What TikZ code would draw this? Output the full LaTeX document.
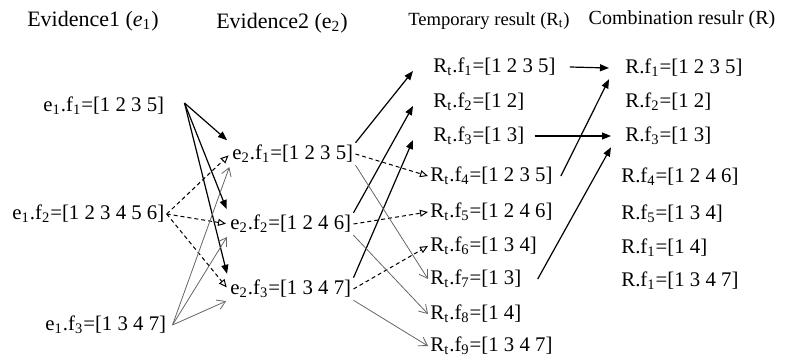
\documentclass[tikz,border=0pt]{standalone}
\usepackage{fontspec}
\setmainfont{Liberation Serif}
\usetikzlibrary{arrows.meta}
\newcommand{\ix}[1]{\textsubscript{#1}}

\begin{document}
\begin{tikzpicture}[x=0.5pt,y=-0.5pt]
\tikzstyle{item}=[anchor=west, inner sep=1pt, font=\fontsize{10.4}{12}\selectfont]
\tikzstyle{head}=[inner sep=1pt, font=\fontsize{11}{13}\selectfont]
\tikzstyle{hard}=[line width=0.6pt, -{Triangle[length=4.5pt,width=3.5pt]}]
\tikzstyle{soft}=[line width=0.5pt, dash pattern=on 2pt off 1.5pt, -{Triangle[open,length=4pt,width=3.5pt]}]
\tikzstyle{weak}=[line width=0.4pt, draw=black!60, -{Straight Barb[length=4pt,width=5pt]}]
\useasboundingbox (0,0) rectangle (787,358);
% column titles
\node[head] (h1) at (93,21) {Evidence1 (\textit{e}\ix{1})};
\node[head] (h2) at (282,23) {Evidence2 (e\ix{2})};
\node[head, font=\fontsize{9.3}{11}\selectfont] (h3) at (489,21) {Temporary result (R\ix{t})};
\node[head, font=\fontsize{10}{12}\selectfont] (h4) at (682,20) {Combination resulr (R)};
% evidence 1
\node[item] (e11) at (41,106) {e\ix{1}.f\ix{1}=[1 2 3 5]};
\node[item] (e12) at (10,214) {e\ix{1}.f\ix{2}=[1 2 3 4 5 6]};
\node[item] (e13) at (43,325) {e\ix{1}.f\ix{3}=[1 3 4 7]};
% evidence 2
\node[item] (e21) at (230,154) {e\ix{2}.f\ix{1}=[1 2 3 5]};
\node[item] (e22) at (228,224) {e\ix{2}.f\ix{2}=[1 2 4 6]};
\node[item] (e23) at (228,289) {e\ix{2}.f\ix{3}=[1 3 4 7]};
% temporary result
\node[item] (rt1) at (431,67) {R\ix{t}.f\ix{1}=[1 2 3 5]};
\node[item] (rt2) at (431,102) {R\ix{t}.f\ix{2}=[1 2]};
\node[item] (rt3) at (431,136) {R\ix{t}.f\ix{3}=[1 3]};
\node[item] (rt4) at (428,176) {R\ix{t}.f\ix{4}=[1 2 3 5]};
\node[item] (rt5) at (428,212) {R\ix{t}.f\ix{5}=[1 2 4 6]};
\node[item] (rt6) at (428,246) {R\ix{t}.f\ix{6}=[1 3 4]};
\node[item] (rt7) at (428,279) {R\ix{t}.f\ix{7}=[1 3]};
\node[item] (rt8) at (428,314) {R\ix{t}.f\ix{8}=[1 4]};
\node[item] (rt9) at (428,346) {R\ix{t}.f\ix{9}=[1 3 4 7]};
% combination result
\node[item] (r1) at (623,68) {R.f\ix{1}=[1 2 3 5]};
\node[item] (r2) at (623,102) {R.f\ix{2}=[1 2]};
\node[item] (r3) at (623,136) {R.f\ix{3}=[1 3]};
\node[item] (r4) at (619,177) {R.f\ix{4}=[1 2 4 6]};
\node[item] (r5) at (619,214) {R.f\ix{5}=[1 3 4]};
\node[item] (r6) at (619,248) {R.f\ix{1}=[1 4]};
\node[item] (r7) at (619,281) {R.f\ix{1}=[1 3 4 7]};
% e1 -> e2
\foreach \j in {e21,e22,e23}{\draw[hard, shorten >=2pt] ([xshift=9pt,yshift=1.5pt]e11.east) -- (\j.north west);}
\foreach \j in {e21,e22,e23}{\draw[soft, shorten >=1pt] (e12.east) -- (\j.west);}
\foreach \j in {e21,e22,e23}{\draw[weak, shorten >=1pt] ([xshift=2pt]e13.east) -- (\j.south west);}
% e2 -> Rt
\foreach \i/\j in {e21/rt1,e22/rt2,e23/rt3}{\draw[hard] (\i.north east) -- ([xshift=-9pt,yshift=-2pt]\j.west);}
\foreach \i/\j in {e21/rt4,e22/rt5,e23/rt6}{\draw[soft] (\i.east) -- (\j.west);}
\foreach \i/\j in {e21/rt7,e22/rt8,e23/rt9}{\draw[weak] (\i.south east) -- (\j.west);}
% Rt -> R
\draw[hard] ([xshift=6pt]rt1.east) -- ([xshift=-7pt]r1.west);
\draw[hard] ([xshift=4pt]rt3.east) -- ([xshift=-6pt]r3.west);
\draw[hard] ([xshift=3pt]rt4.east) -- ([xshift=-7pt]r1.south west);
\draw[hard] ([xshift=7pt]rt7.east) -- ([xshift=-6pt]r3.south west);
\end{tikzpicture}
\end{document}
